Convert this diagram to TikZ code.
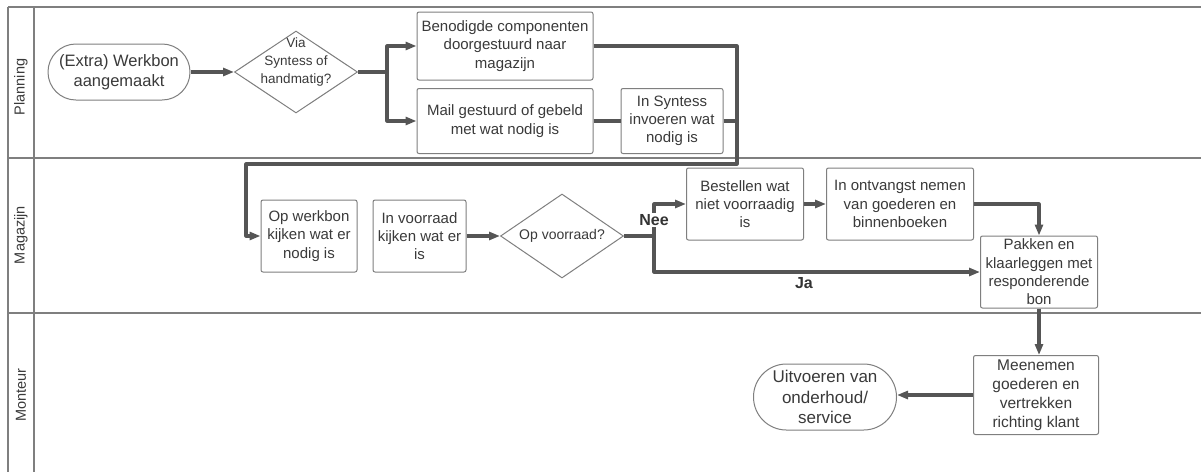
\documentclass[tikz,border=0pt]{standalone}
\usepackage{fontspec}
\setmainfont{Liberation Sans}
\usetikzlibrary{positioning, shapes.geometric, arrows.meta}
\definecolor{lijn}{HTML}{555555}
\definecolor{rand}{HTML}{7F7F7F}
\definecolor{tekst}{HTML}{3A3A3A}

\begin{document}
\begin{tikzpicture}[x=1pt, y=-1pt]

	\tikzstyle{every node}=[font=\fontsize{15}{18.3}\selectfont, text=tekst, align=center]
	\tikzstyle{stap}=[draw=rand, line width=1pt, rounded corners=2pt, inner sep=0pt, fill=white]
	\tikzstyle{eind}=[draw=rand, line width=1pt, inner sep=0pt, fill=white]
	\tikzstyle{vraag}=[draw=rand, line width=1pt, diamond, aspect=1.5, inner sep=0pt, fill=white]
	\tikzstyle{baan}=[draw=rand, line width=1.6pt]
	\tikzstyle{keus}=[font=\bfseries\fontsize{16}{19}\selectfont, text=black!80]

	\useasboundingbox (0,0) rectangle (1201,472);

	% banen
	\draw[baan] (8,7) -- (1201,7);
	\draw[baan] (8,7) -- (8,472);
	\draw[baan] (34,7) -- (34,472);
	\draw[baan] (8,158) -- (1201,158);
	\draw[baan] (8,313) -- (1201,313);

	\node[rotate=90, font=\fontsize{14.5}{17}\selectfont] (planning) at (21,87)  {Planning};
	\node[rotate=90, font=\fontsize{14.5}{17}\selectfont] (magazijn) at (21,235) {Magazijn};
	\node[rotate=90, font=\fontsize{14.5}{17}\selectfont] (monteur)  at (21,395) {Monteur};

	% planning
	\node[eind, minimum width=142pt, minimum height=56pt, rounded corners=27.9pt, font=\fontsize{16.5}{20}\selectfont] (aanmaak) at (119,72) {(Extra) Werkbon\\aangemaakt};
	\node[vraag, minimum width=123pt, minimum height=82pt, label={[yshift=10pt, font=\fontsize{13.5}{18.3}\selectfont]center:{Via\\Syntess of\\handmatig?}}] (route) at (296,72) {};
	\node[stap, minimum width=176pt, minimum height=68pt] (componenten) at (505,46) {Benodigde componenten\\doorgestuurd naar\\magazijn};
	\node[stap, minimum width=176pt, minimum height=65pt] (mail) at (505,121) {Mail gestuurd of gebeld\\met wat nodig is};
	\node[stap, minimum width=102pt, minimum height=65pt, right=27pt of mail] (invoeren) {In Syntess\\invoeren wat\\nodig is};

	% magazijn
	\node[stap, minimum width=96pt, minimum height=72pt] (werkbon) at (309,236) {Op werkbon\\kijken wat er\\nodig is};
	\node[stap, minimum width=93pt, minimum height=72pt, right=15pt of werkbon] (voorraad) {In voorraad\\kijken wat er\\is};
	\node[vraag, minimum width=123pt, minimum height=84pt, font=\fontsize{14}{17}\selectfont] (voorraadvraag) at (562,236) {Op voorraad?};
	\node[stap, minimum width=117pt, minimum height=72pt] (bestellen) at (745,204) {Bestellen wat\\niet voorraadig\\is};
	\node[stap, minimum width=147pt, minimum height=72pt, right=22pt of bestellen] (ontvangst) {In ontvangst nemen\\van goederen en\\binnenboeken};
	\node[stap, minimum width=117pt, minimum height=72pt] (pakken) at (1039,272) {Pakken en\\klaarleggen met\\responderende\\bon};

	% monteur
	\node[stap, minimum width=125pt, minimum height=79pt, font=\fontsize{15.5}{19}\selectfont] (meenemen) at (1036,395) {Meenemen\\goederen en\\vertrekken\\richting klant};
	\node[eind, minimum width=143pt, minimum height=66pt, rounded corners=32.9pt, font=\fontsize{17}{20.5}\selectfont] (uitvoeren) at (825,397) {Uitvoeren van\\onderhoud/\\service};

	\tikzstyle{arrow} = [line width=3.2pt, draw=lijn, line join=round, -{Triangle[length=11pt,width=8pt]}]
	\tikzstyle{lijnstuk} = [line width=3.2pt, draw=lijn, line join=round]

	\coordinate (splitsing) at (387,72);
	\coordinate (hoek)      at (737,164);
	\coordinate (terug)     at (246,164);
	\coordinate (tak)       at (654,236);

	\draw[arrow]    (aanmaak) -- (route);
	\draw[arrow]    (route.east) -- (splitsing) |- (componenten.west);
	\draw[arrow]    (splitsing) |- (mail.west);
	\draw[lijnstuk] (mail) -- (invoeren);
	\draw[arrow]    (componenten.east) -| (hoek) -- (terug) |- (werkbon.west);
	\draw[lijnstuk] (invoeren.east) -- (invoeren.east -| hoek);
	\draw[arrow]    (voorraad) -- (voorraadvraag);
	\draw[arrow]    (voorraadvraag.east) -- (tak) |- node[pos=0.25, keus, fill=white, inner sep=1pt]{Nee} (bestellen.west);
	\draw[arrow]    (tak) |- node[pos=0.73, keus, below=1pt]{Ja} (pakken.west);
	\draw[arrow]    (bestellen) -- (ontvangst);
	\draw[arrow]    (ontvangst.east) -| (pakken.north);
	\draw[arrow]    (pakken.south) -- (pakken.south |- meenemen.north);
	\draw[arrow]    (meenemen.west) -- (uitvoeren.east |- meenemen.west);

\end{tikzpicture}
\end{document}
